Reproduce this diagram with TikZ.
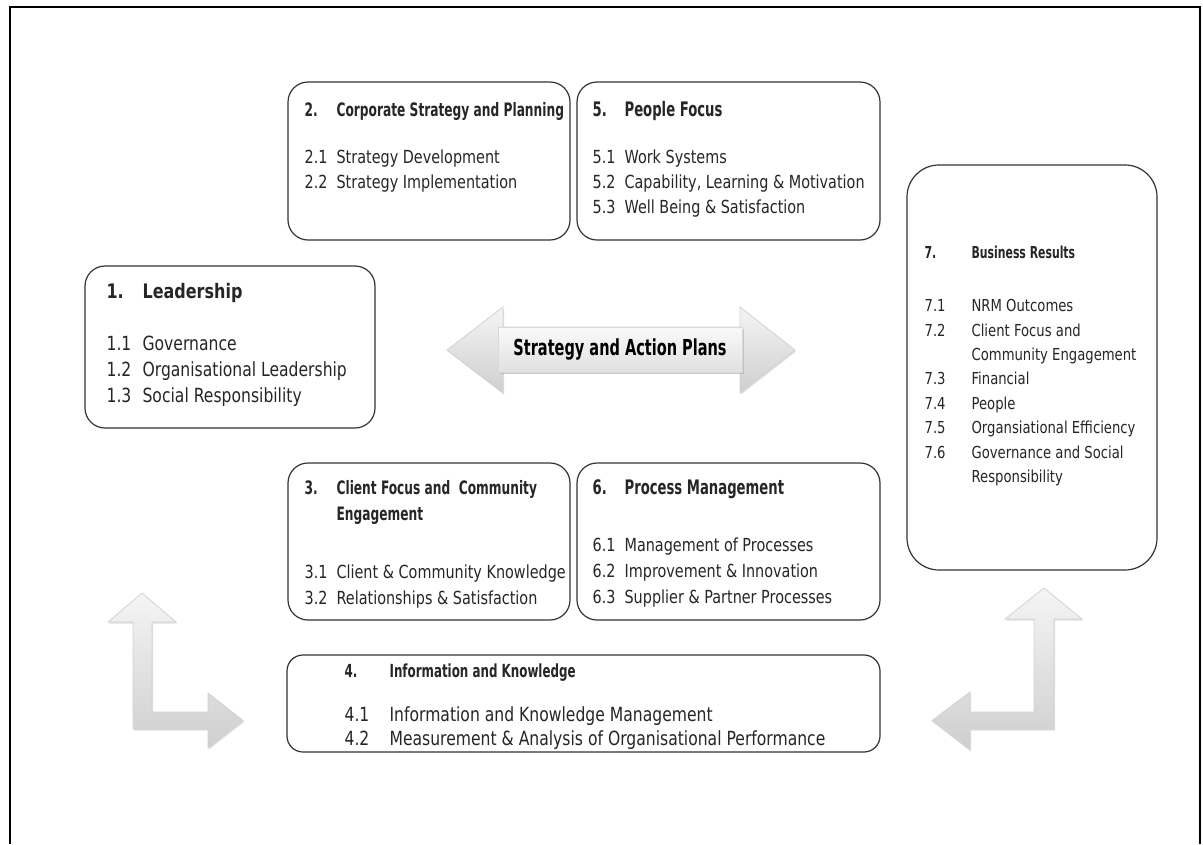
\documentclass[tikz,border=0pt]{standalone}
\usepackage{fontspec}
\setmainfont{DejaVu Sans}[FakeStretch=0.8]
\newfontfamily\hdfont{DejaVu Sans}[FakeStretch=0.66]
\usetikzlibrary{positioning,shadows}
\newcommand{\hd}[2][18]{{\hdfont\bfseries\fontsize{#1}{#1}\selectfont #2}}
\newcommand{\hdw}[2][20]{{\bfseries\fontsize{#1}{#1}\selectfont #2}}
\begin{document}
\begin{tikzpicture}[x=1pt, y=-1pt,
  panel/.style={draw=black!80, line width=1.2pt, rounded corners=20pt, fill=white},
  txt/.style={inner sep=0pt, anchor=north west, text=black!85, font=\fontsize{18}{25}\selectfont},
  blockarrow/.style={draw=gray!35, line width=0.8pt, top color=gray!8, bottom color=gray!38,
    drop shadow={opacity=0.25, shadow xshift=1pt, shadow yshift=-1.5pt}},
  plate/.style={draw=gray!30, line width=0.6pt, top color=gray!4, bottom color=gray!24, inner sep=0pt,
    drop shadow={opacity=0.3, shadow xshift=1.5pt, shadow yshift=-2pt}}]
\useasboundingbox (0,0) rectangle (1203,844);
\draw[line width=1.2pt] (10,844) -- (10,7) -- (1200,7) -- (1200,844); % frame

% block arrows
\path[blockarrow] (447,350) -- (503,307) -- (503,327) -- (740,327) -- (740,307) -- (795,350)
  -- (740,393) -- (740,372) -- (503,372) -- (503,393) -- cycle;
\path[blockarrow] (142,593) -- (176,622) -- (152,622) -- (152,712) -- (208,712) -- (208,693) -- (243,720.5)
  -- (208,748) -- (208,729) -- (133,729) -- (133,622) -- (108,622) -- cycle;
\path[blockarrow] (1044,588) -- (1082,619) -- (1054,619) -- (1054,729) -- (970,729) -- (970,750) -- (932,720.5)
  -- (970,692) -- (970,712) -- (1034,712) -- (1034,619) -- (1005,619) -- cycle;
\node[plate, minimum width=244pt, minimum height=45pt, font=\hdfont\bfseries\fontsize{22}{22}\selectfont]
  (sap) at (620,349.5) {Strategy and Action Plans};

% boxes
\node[panel, minimum width=282pt, minimum height=158pt] (b2) at (429,161) {};
\node[panel, minimum width=303pt, minimum height=158pt] (b5) at (728.5,161) {};
\node[panel, minimum width=290pt, minimum height=162pt] (b1) at (230,347) {};
\node[panel, minimum width=250pt, minimum height=405pt, rounded corners=32pt] (b7) at (1032,367.5) {};
\node[panel, minimum width=282pt, minimum height=157pt] (b3) at (429,541.5) {};
\node[panel, minimum width=303pt, minimum height=157pt] (b6) at (728.5,541.5) {};
\node[panel, minimum width=593pt, minimum height=97pt, rounded corners=16pt] (b4) at (583.5,703.5) {};

\node[txt, below right=17.5pt and 17pt of b2.north west] (t2) {\begin{tabular}{@{}p{32pt}@{}l@{}}
  \hd[18.5]{2.} & \hd[18.5]{Corporate Strategy and Planning}\\[22pt]
  2.1 & Strategy Development\\
  2.2 & Strategy Implementation
\end{tabular}};
\node[txt, below right=17.5pt and 16pt of b5.north west] (t5) {\begin{tabular}{@{}p{32pt}@{}l@{}}
  \hd[20]{5.} & \hd[20]{People Focus}\\[22pt]
  5.1 & Work Systems\\
  5.2 & Capability, Learning \& Motivation\\
  5.3 & Well Being \& Satisfaction
\end{tabular}};
\node[txt, font=\fontsize{19.5}{26}\selectfont, below right=15pt and 22pt of b1.north west] (t1) {\begin{tabular}{@{}p{36pt}@{}l@{}}
  \hdw{1.} & \hdw{Leadership}\\[26pt]
  1.1 & Governance\\
  1.2 & Organisational Leadership\\
  1.3 & Social Responsibility
\end{tabular}};
\node[txt, font=\fontsize{16.5}{24.4}\selectfont, below right=77pt and 18pt of b7.north west] (t7) {\begin{tabular}{@{}p{47pt}@{}l@{}}
  \hd[16.5]{7.} & \hd[16.5]{Business Results}\\[28.6pt]
  7.1 & NRM Outcomes\\
  7.2 & Client Focus and\\
      & Community Engagement\\
  7.3 & Financial\\
  7.4 & People\\
  7.5 & Organsiational Efficiency\\
  7.6 & Governance and Social\\
      & Responsibility
\end{tabular}};
\node[txt, font=\fontsize{18}{26}\selectfont, below right=13.8pt and 17pt of b3.north west] (t3) {\begin{tabular}{@{}p{32pt}@{}l@{}}
  \hd[18.5]{3.} & \hd[18.5]{Client Focus and\ \ Community}\\
      & \hd[18.5]{Engagement}\\[32pt]
  3.1 & Client \& Community Knowledge\\
  3.2 & Relationships \& Satisfaction
\end{tabular}};
\node[txt, font=\fontsize{18}{26}\selectfont, below right=13.8pt and 16pt of b6.north west] (t6) {\begin{tabular}{@{}p{32pt}@{}l@{}}
  \hd[20]{6.} & \hd[20]{Process Management}\\[31pt]
  6.1 & Management of Processes\\
  6.2 & Improvement \& Innovation\\
  6.3 & Supplier \& Partner Processes
\end{tabular}};
\node[txt, font=\fontsize{19.5}{24}\selectfont, below right=6pt and 58pt of b4.north west] (t4) {\begin{tabular}{@{}p{45pt}@{}l@{}}
  \hd{4.} & \hd{Information and Knowledge}\\[20pt]
  4.1 & Information and Knowledge Management\\
  4.2 & Measurement \& Analysis of Organisational Performance
\end{tabular}};
\end{tikzpicture}
\end{document}
